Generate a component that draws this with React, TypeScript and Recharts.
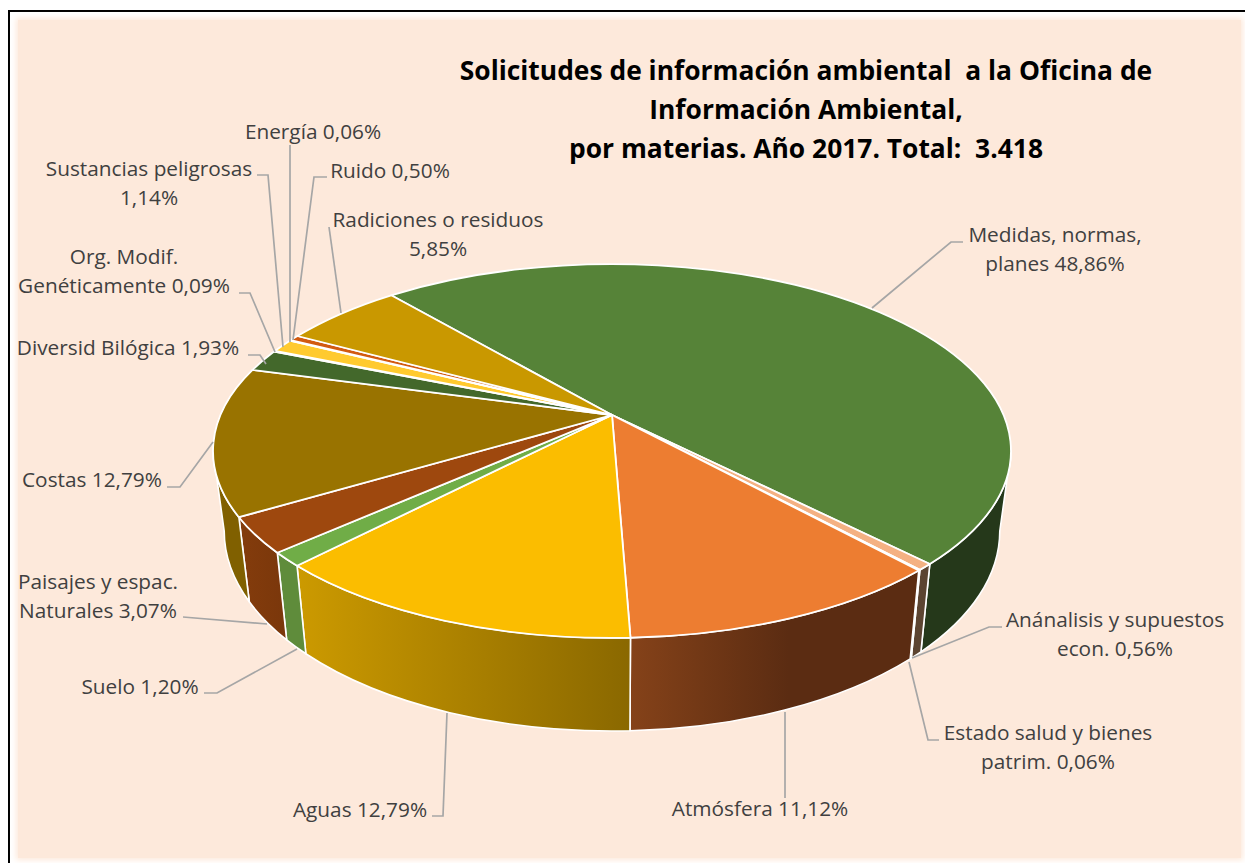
import React from "react";
import { PieChart, Pie } from "recharts";

const names = ["Medidas, normas, planes","Anánalisis y supuestos econ.","Estado salud y bienes patrim.","Atmósfera","Aguas","Suelo","Paisajes y espac. Naturales","Costas","Diversid Bilógica","Org. Modif. Genéticamente","Sustancias peligrosas","Energía","Ruido","Radiciones o residuos"];
const shares = [48.86,0.56,0.06,11.12,12.79,1.2,3.07,12.79,1.93,0.09,1.14,0.06,0.5,5.85];
const topColors = ["#568338","#F4B183","#FDE9D9","#ED7D31","#FBBD00","#70AD47","#9E480E","#997300","#43682B","#5B7FC0","#FFCA2F","#A5A5A5","#D25A10","#C99800"];
const wallFrom = ["#25381A","#5C4431","#FFFFFF","#854219","#CC9A00","#5F8C3B","#843C0C","#806000","#2D451C","#3A5590","#B08C20","#777777","#8E400B","#8F6B00"];
const wallTo = ["#25381A","#5C4431","#FFFFFF","#5B2C12","#8A6800","#5F8C3B","#7A370B","#806000","#2D451C","#3A5590","#B08C20","#777777","#8E400B","#8F6B00"];
const wallEnd = [1,1,1,0.55,1,1,1,1,1,1,1,1,1,1];
const labelLines = [["Medidas, normas,","planes 48,86%"],["Anánalisis y supuestos","econ. 0,56%"],["Estado salud y bienes","patrim. 0,06%"],["Atmósfera 11,12%"],["Aguas 12,79%"],["Suelo 1,20%"],["Paisajes y espac.","Naturales 3,07%"],["Costas 12,79%"],["Diversid Bilógica 1,93%"],["Org. Modif.","Genéticamente 0,09%"],["Sustancias peligrosas","1,14%"],["Energía 0,06%"],["Ruido 0,50%"],["Radiciones o residuos","5,85%"]];
const titleLines = ["Solicitudes de información ambiental  a la Oficina de","Información Ambiental,","por materias. Año 2017. Total:  3.418"];

// label placement: text centre x, first line centre y, leader polyline
const labelPlaces: { x: number; y: number; leader: string }[] = [
  { x: 1055, y: 235, leader: "872,308 951,242 963,242" },
  { x: 1115, y: 620, leader: "912,658 989,627 1002,627" },
  { x: 1048, y: 733, leader: "909,662 928,740 939,740" },
  { x: 760, y: 809, leader: "785,712 785,798" },
  { x: 360, y: 810, leader: "447,713 443,816 432,816" },
  { x: 140, y: 687, leader: "297,649 217,693 204,693" },
  { x: 98, y: 582, leader: "267,624 183,617" },
  { x: 92, y: 480, leader: "213,442 180,487 167,487" },
  { x: 128, y: 348, leader: "248,355 260,355 266,364" },
  { x: 124, y: 257, leader: "275,352 250,293 239,293" },
  { x: 149, y: 169, leader: "283,347 268,175 257,175" },
  { x: 313, y: 132, leader: "290,342 290,145" },
  { x: 390, y: 171, leader: "293,340 314,177 327,177" },
  { x: 438, y: 220, leader: "341,313 329,227" },
];

const data = names.map((name, i) => ({ name, value: shares[i] }));

// Perspective of the disc: circle mapped by a projective transform
const K = 0.1926;
const SQUASH = 0.4598;
const WALL_DROP = 80;
const WALL_RX = 0.972;
const WALL_RY = 1.07;
const RAD = Math.PI / 180;

function Slice3D(props: any, idx?: number) {
  const { cx, cy, outerRadius, startAngle, endAngle } = props;
  const i: number = typeof idx === "number" ? idx : props.index ?? 0;
  const a = outerRadius;
  const b = outerRadius * SQUASH;
  const rx = a / Math.sqrt(1 - K * K);
  const ry = b / (1 - K * K);
  const ey = cy + (b * K) / (1 - K * K);
  const proj = (deg: number) => {
    const u = Math.cos(deg * RAD);
    const v = -Math.sin(deg * RAD);
    const w = 1 - K * v;
    return [cx + (a * u) / w, cy + (b * v) / w];
  };
  const p1 = proj(startAngle);
  const p2 = proj(endAngle);
  const phiOf = (p: number[]) => {
    const d = Math.atan2((p[1] - ey) / ry, (p[0] - cx) / rx) / RAD;
    return d < 0 ? d + 360 : d;
  };
  const f1 = phiOf(p1);
  let f2 = phiOf(p2);
  if (f2 <= f1) f2 += 360;
  const top = `M${cx},${cy}L${p1[0]},${p1[1]}A${rx},${ry} 0 ${f2 - f1 > 180 ? 1 : 0} 1 ${p2[0]},${p2[1]}Z`;
  const walls: string[] = [];
  for (const [w0, w1] of [[0, 180], [360, 540]]) {
    const lo = Math.max(f1, w0);
    const hi = Math.min(f2, w1);
    if (hi > lo) {
      const at = (f: number, rxx: number, ryy: number, yy: number) => [cx + rxx * Math.cos(f * RAD), yy + ryy * Math.sin(f * RAD)];
      const t0 = at(lo, rx, ry, ey);
      const t1 = at(hi, rx, ry, ey);
      const brx = rx * WALL_RX;
      const bry = ry * WALL_RY;
      const b0 = at(lo, brx, bry, ey + WALL_DROP);
      const b1 = at(hi, brx, bry, ey + WALL_DROP);
      walls.push(`M${t0[0]},${t0[1]}A${rx},${ry} 0 0 1 ${t1[0]},${t1[1]}L${b1[0]},${b1[1]}A${brx},${bry} 0 0 0 ${b0[0]},${b0[1]}Z`);
    }
  }
  return (
    <g>
      <defs>
        <linearGradient id={`wall-${i}`} x1="0" y1="0" x2="1" y2="0">
          <stop offset="0" stopColor={wallFrom[i]} />
          <stop offset={wallEnd[i]} stopColor={wallTo[i]} />
        </linearGradient>
      </defs>
      {walls.map((d, n) => (
        <path key={n} d={d} fill={`url(#wall-${i})`} stroke="#FFFFFF" strokeWidth={1.6} strokeLinejoin="round" />
      ))}
      <path d={top} fill={topColors[i]} stroke="#FFFFFF" strokeWidth={1.8} strokeLinejoin="round" />
    </g>
  );
}

function SliceLabel(props: any) {
  const i: number = props.index;
  const place = labelPlaces[i];
  return (
    <g>
      <polyline points={place.leader} fill="none" stroke="#A6A6A6" strokeWidth={1.7} />
      <text x={place.x} y={place.y} textAnchor="middle" fontFamily="'Open Sans', sans-serif" fontSize={20.8} fill="#404040">
        {labelLines[i].map((line, n) => (
          <tspan key={n} x={place.x} y={place.y + n * 29} dy="0.35em">{line}</tspan>
        ))}
      </text>
    </g>
  );
}

export default function App() {
  return (
    <div style={{ position: "absolute", left: 0, top: 0, width: 1245, height: 863, overflow: "hidden", background: "#FFFFFF" }}>
      <div style={{ position: "absolute", left: 8, top: 10, width: 1300, height: 900, border: "2px solid #000000" }} />
      <div style={{ position: "absolute", left: 18, top: 20, width: 1223, height: 838, background: "#FDE9DB", boxShadow: "0 0 6px 2px #FDE9DB" }} />
      <div style={{ position: "absolute", left: 0, top: 0 }}>
        <PieChart width={1245} height={863} margin={{ top: 0, right: 0, bottom: 0, left: 0 }}>
          <Pie
            data={data}
            dataKey="value"
            nameKey="name"
            cx={612}
            cy={415}
            innerRadius={0}
            outerRadius={391.5}
            startAngle={130.3}
            endAngle={-229.7}
            paddingAngle={0}
            stroke="none"
            isAnimationActive={false}
            shape={Slice3D as any}
            label={SliceLabel as any}
            labelLine={false}
          />
          <text textAnchor="middle" fontFamily="'Open Sans', sans-serif" fontWeight={700} fontSize={26.4} fill="#000000" style={{ whiteSpace: "pre" }}>
            {titleLines.map((line, n) => (
              <tspan key={n} x={806} y={80 + n * 39}>{line}</tspan>
            ))}
          </text>
        </PieChart>
      </div>
    </div>
  );
}
